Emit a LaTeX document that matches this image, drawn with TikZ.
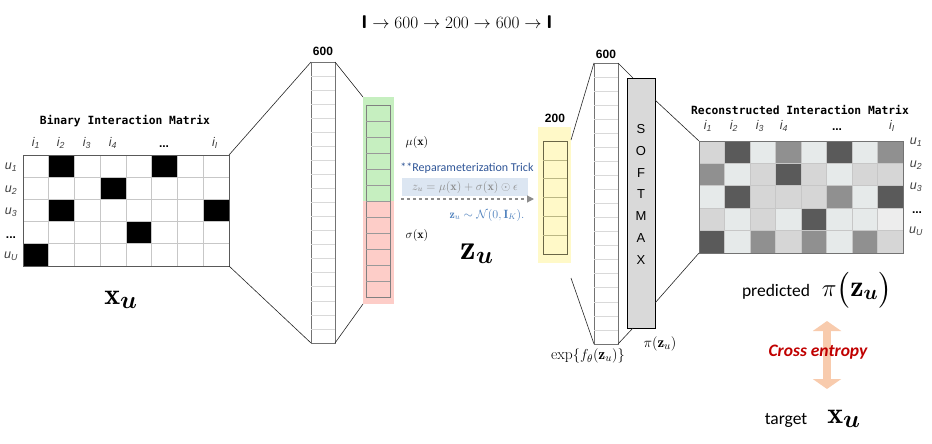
\documentclass[tikz,border=0pt]{standalone}
\usepackage{amsmath, amssymb, bm}
\usepackage{fontspec}
\usepackage{xcolor}
\usepackage{tikz}
\usetikzlibrary{arrows.meta, positioning}

\newfontfamily\armfont{Liberation Sans}
\newfontfamily\calfont{Carlito}
\newfontfamily\codefont{DejaVu Sans Mono}

\definecolor{muGreen}{HTML}{C6EFC0}
\definecolor{sigRed}{HTML}{FDCDC8}
\definecolor{zYellow}{HTML}{FFF9C8}
\definecolor{rpBlue}{HTML}{2F5597}
\definecolor{rpBox}{HTML}{DCE6F2}
\definecolor{priorBlue}{HTML}{4F81BD}
\definecolor{ceRed}{HTML}{C00000}
\definecolor{ceArrow}{HTML}{F8CBAD}
\definecolor{recD}{HTML}{5A5A5A}
\definecolor{recM}{HTML}{909090}
\definecolor{recL}{HTML}{D6D6D6}
\definecolor{recV}{HTML}{E6EAEA}
\definecolor{recW}{HTML}{EDEDED}

% big symbol with a large subscript u
\newcommand{\bigsym}[3]{\fontsize{#1}{#1}\selectfont $#3_{\text{\fontsize{#2}{#2}\selectfont $\bm{u}$}}$}

\begin{document}
\begin{tikzpicture}[
    x=1pt, y=-1pt,
    box/.style={inner sep=0pt, outer sep=0pt},
    frame/.style={draw=black!65, line width=0.8pt},
    cellgrid/.style={draw=black!22, line width=0.7pt},
    layer/.style={box, draw=black!55, line width=0.6pt, minimum width=24pt},
    funnel/.style={draw=black!85, line width=0.6pt},
    dimlabel/.style={font=\armfont\bfseries\fontsize{12}{12}\selectfont},
    mattitle/.style={font=\codefont\bfseries\fontsize{11.3}{11.3}\selectfont},
    idxlabel/.style={font=\armfont\itshape\fontsize{12.5}{12.5}\selectfont, text=black!75},
    dotlabel/.style={font=\armfont\bfseries\fontsize{12}{12}\selectfont},
    calibri/.style={font=\calfont\fontsize{17.5}{17.5}\selectfont}
]
\useasboundingbox (0,0) rectangle (932,444);

% Pipeline
\node (pipe) at (457,22) {\fontsize{18.4}{18.4}\selectfont $\textsf{\textbf{I}} \rightarrow 600 \rightarrow 200 \rightarrow 600 \rightarrow \textsf{\textbf{I}}$};

% Binary input matrix
\node[box, minimum width=206pt, minimum height=111pt] (inmat) at (126,210.5) {};
\foreach \c/\r in {2/1, 6/1, 4/2, 2/3, 8/3, 5/4, 1/5}
    \fill[black] ([xshift=(\c-1)*25.75pt, yshift=-(\r-1)*22.2pt]inmat.north west) rectangle ++(25.75,22.2);
\foreach \k in {1,...,7}
    \draw[cellgrid] ([xshift=\k*25.75pt]inmat.north west) -- ([xshift=\k*25.75pt]inmat.south west);
\foreach \k in {1,...,4}
    \draw[cellgrid] ([yshift=-\k*22.2pt]inmat.north west) -- ([yshift=-\k*22.2pt]inmat.north east);
\draw[frame] (inmat.north west) rectangle (inmat.south east);

\node[mattitle] (intitle) at (125,121) {Binary Interaction Matrix};
\foreach \x/\i in {36/1, 61/2, 87/3, 113/4, 215/I}
    \node[idxlabel] (in-i\i) at (\x,143) {i\textsubscript{\i}};
\node[dotlabel] (in-idots) at (164,147) {...};
\foreach \y/\u in {167/1, 190/2, 212/3, 256/U}
    \node[idxlabel] (in-u\u) at (11,\y) {u\textsubscript{\u}};
\node[dotlabel] (in-udots) at (11,238) {...};
\node (xin) at (121,300) {\bigsym{30}{23}{\mathbf{x}}};

% Encoder layer
\node[layer, minimum height=281pt] (enc600) at (323,202.5) {};
\foreach \k in {1,...,19}
    \draw[cellgrid, draw=black!15] ([yshift=-\k*14.05pt]enc600.north west) -- ([yshift=-\k*14.05pt]enc600.north east);
\node[dimlabel, above=3pt of enc600] (enc600lbl) {600};

% Latent mean / std
\node[box, fill=muGreen, minimum width=31pt, minimum height=104pt] (mubg) at (378.5,149) {};
\node[box, fill=sigRed, minimum width=31pt, minimum height=103pt] (sigbg) at (378.5,252.5) {};
\node[layer, draw=black!50, minimum height=192pt] (mucol) at (378,201) {};
\foreach \k in {1,...,11}
    \draw[draw=black!40, line width=0.6pt] ([yshift=-\k*16pt]mucol.north west) -- ([yshift=-\k*16pt]mucol.north east);
\node (mulbl) at (417,142) {\fontsize{12}{12}\selectfont $\mu(\mathbf{x})$};
\node (siglbl) at (417,235) {\fontsize{12}{12}\selectfont $\sigma(\mathbf{x})$};

% Funnels
\draw[funnel] (inmat.north east) -- (enc600.north west);
\draw[funnel] (inmat.south east) -- (enc600.south west);
\draw[funnel] (enc600.north east) -- (mubg.north west);
\draw[funnel] (enc600.south east) -- (sigbg.south west);

% Reparameterization
\node[font=\calfont\fontsize{12}{12}\selectfont, text=rpBlue] (rptitle) at (467,168) {**Reparameterization Trick};
\node[box, fill=rpBox, minimum width=126pt, minimum height=18pt, text=black!45] (rpbox) at (465,187)
    {\fontsize{12}{12}\selectfont $z_u = \mu(\mathbf{x}) + \sigma(\mathbf{x}) \odot \epsilon$};
\coordinate (rpstart) at (401,199);
\coordinate (rpend) at (534,199);
\draw[draw=black!45, line width=1.2pt, dashed, -{Triangle[length=7pt, width=7pt]}] (rpstart) -- (rpend);
\node[text=priorBlue] (prior) at (487,215) {\fontsize{12}{12}\selectfont $\mathbf{z}_u \sim \mathcal{N}(0, \mathbf{I}_K).$};
\node (zbig) at (477,254) {\bigsym{35}{25}{\mathbf{z}}};

% Decoder: latent code
\node[box, fill=zYellow, minimum width=33pt, minimum height=136pt] (yelbg) at (554.5,195) {};
\node[layer, draw=black!45!yellow!60!black, minimum height=113pt] (zcol) at (555,197.5) {};
\foreach \k in {1,...,5}
    \draw[draw=black!30!yellow!70!black!60, line width=0.6pt] ([yshift=-\k*18.83pt]zcol.north west) -- ([yshift=-\k*18.83pt]zcol.north east);
\node[dimlabel] (zlbl) at (555,118) {200};

% Decoder layer
\node[layer, minimum height=281pt] (dec600) at (606,203.5) {};
\foreach \k in {1,...,19}
    \draw[cellgrid, draw=black!15] ([yshift=-\k*14.05pt]dec600.north west) -- ([yshift=-\k*14.05pt]dec600.north east);
\node[dimlabel, above=1pt of dec600] (dec600lbl) {600};

% Softmax
\node[box, draw=black, fill=black!15, line width=0.8pt, minimum width=28pt, minimum height=250pt] (sm) at (641,203) {};
\foreach \ch [count=\k] in {S,O,F,T,M,A,X}
    \node[font=\armfont\fontsize{13}{13}\selectfont] (sm\k) at (641,{129+(\k-1)*21.8}) {\ch};

\draw[funnel] ([yshift=-13pt]yelbg.north east) -- (dec600.north west);
\draw[funnel] ([yshift=-15pt]yelbg.south east) -- (dec600.south west);
\draw[funnel] (dec600.north east) -- ([xshift=6pt]sm.north west);
\draw[funnel] (dec600.south east) -- ([xshift=6pt]sm.south west);

\node (explbl) at (588,356) {\fontsize{15.5}{15.5}\selectfont $\exp\{f_\theta(\mathbf{z}_u)\}$};
\node (pilbl) at (660,344) {\fontsize{15}{15}\selectfont $\pi(\mathbf{z}_u)$};

% Reconstructed matrix
\node[box, minimum width=204pt, minimum height=112pt] (recmat) at (801,197) {};
\foreach \row [count=\r] in {{L,D,V,M,V,D,V,M},{M,V,L,D,L,V,L,L},{V,D,L,L,L,M,V,D},{L,V,L,V,D,V,V,W},{D,V,M,L,M,V,M,L}}
    \foreach \s [count=\c] in \row
        \fill[rec\s] ([xshift=(\c-1)*25.5pt, yshift=-(\r-1)*22.4pt]recmat.north west) rectangle ++(25.5,22.4);
\foreach \k in {1,...,7}
    \draw[cellgrid] ([xshift=\k*25.5pt]recmat.north west) -- ([xshift=\k*25.5pt]recmat.south west);
\foreach \k in {1,...,4}
    \draw[cellgrid] ([yshift=-\k*22.4pt]recmat.north west) -- ([yshift=-\k*22.4pt]recmat.north east);
\draw[frame, draw=black!55] (recmat.north west) rectangle (recmat.south east);

\draw[funnel] ([yshift=-22pt]sm.north east) -- (recmat.north west);
\draw[funnel] ([yshift=25pt]sm.south east) -- (recmat.south west);

\node[mattitle] (rectitle) at (800,110) {Reconstructed Interaction Matrix};
\foreach \x/\i in {708/1, 734/2, 760/3, 784/4, 892/I}
    \node[idxlabel] (rec-i\i) at (\x,126) {i\textsubscript{\i}};
\node[dotlabel] (rec-idots) at (837,130) {...};
\foreach \y/\u in {142/1, 165/2, 187/3, 231/U}
    \node[idxlabel] (rec-u\u) at (916,\y) {u\textsubscript{\u}};
\node[dotlabel] (rec-udots) at (917,213) {...};

% Loss
\node[calibri] (predlbl) at (776,292) {predicted};
\node (pibig) at (857,290) {\fontsize{30}{30}\selectfont $\pi\bigl(\mathbf{z}_{\text{\fontsize{22}{22}\selectfont $\bm{u}$}}\bigr)$};
\node[calibri] (targetlbl) at (786,420) {target};
\node (xtarget) at (844,419) {\bigsym{30}{23}{\mathbf{x}}};
\coordinate (cetop) at (827,321);
\coordinate (cebot) at (827,389);
\draw[draw=ceArrow, line width=8pt, {Triangle[length=10pt, width=28pt]}-{Triangle[length=10pt, width=28pt]}] (cetop) -- (cebot);
\node[font=\calfont\bfseries\itshape\fontsize{17.5}{17.5}\selectfont, text=ceRed] (celbl) at (818,352) {Cross entropy};

\end{tikzpicture}
\end{document}
